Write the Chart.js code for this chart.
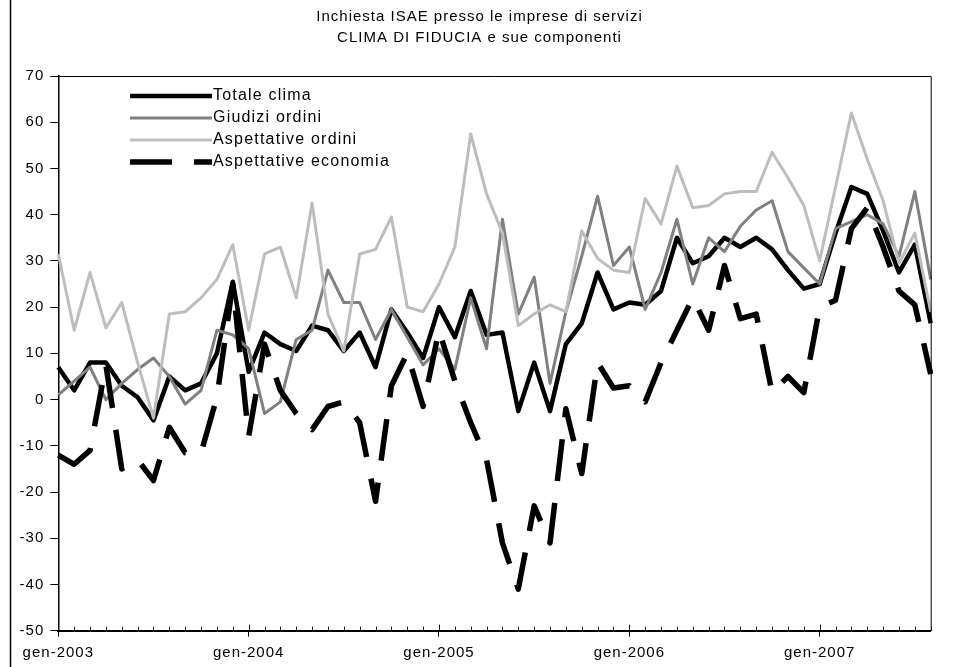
<!DOCTYPE html>
<html>
<head>
    <title>Inchiesta ISAE - imprese di servizi</title>
    <meta charset="utf-8" />
    <script src="https://cdn.jsdelivr.net/npm/chart.js"></script>
    <style>
        html, body { margin: 0; padding: 0; background: #fff; }
        #chartContainer { width: 959px; height: 667px; position: relative; }
    </style>
</head>
<body>
    <div id="chartContainer">
        <canvas id="myChart"></canvas>
    </div>
    <script>
        var categories = [
            'gen-2003','feb-2003','mar-2003','apr-2003','mag-2003','giu-2003','lug-2003','ago-2003','set-2003','ott-2003','nov-2003','dic-2003',
            'gen-2004','feb-2004','mar-2004','apr-2004','mag-2004','giu-2004','lug-2004','ago-2004','set-2004','ott-2004','nov-2004','dic-2004',
            'gen-2005','feb-2005','mar-2005','apr-2005','mag-2005','giu-2005','lug-2005','ago-2005','set-2005','ott-2005','nov-2005','dic-2005',
            'gen-2006','feb-2006','mar-2006','apr-2006','mag-2006','giu-2006','lug-2006','ago-2006','set-2006','ott-2006','nov-2006','dic-2006',
            'gen-2007','feb-2007','mar-2007','apr-2007','mag-2007','giu-2007','lug-2007','ago-2007'
        ];

        var totaleClima = [7, 2, 8, 8, 3, 0.5, -4.5, 5, 2, 3.5, 10, 25.5,
            6, 14.5, 12, 10.5, 16, 15, 10.5, 14.5, 7, 19.5, 14.5, 9,
            20, 13.5, 23.5, 14, 14.5, -2.5, 8, -2.5, 12, 16.5, 27.5, 19.5,
            21, 20.5, 23.5, 35, 29.5, 31, 35, 33, 35, 32.5, 28, 24,
            25, 36, 46, 44.5, 36.5, 27.5, 33.5, 16.5];

        var giudiziOrdini = [1, 4, 7, 0, 3.5, 6.5, 9, 5, -1, 2, 15, 14,
            11, -3, -0.5, 13, 15, 28, 21, 21, 13, 19.5, 13.5, 7.5,
            11, 6.5, 22, 11, 39, 18.5, 26.5, 3.5, 19, 31, 44, 29,
            33, 19.5, 27.5, 39, 25, 35, 32, 37.5, 41, 43, 32, 28.5,
            25, 37, 38.5, 40, 38, 31, 45, 26];

        var aspettativeOrdini = [31.5, 15, 27.5, 15.5, 21, 8, -4, 18.5, 19, 22, 26, 33.5,
            15, 31.5, 33, 22, 42.5, 18.5, 10.5, 31.5, 32.5, 39.5, 20, 19,
            25, 33, 57.5, 44.5, 36, 16, 18.5, 20.5, 19, 36.5, 30.5, 28,
            27.5, 43.5, 38, 50.5, 41.5, 42, 44.5, 45, 45, 53.5, 48, 42,
            30, 46, 62, 52, 43, 29.5, 36, 19];

        var aspettativeEconomia = [-12, -14, -11, 7.5, -15, -13, -17.5, -6, -11.5, -11.5, 0.5, 25,
            -8, 12, 2, -3, -6.5, -1.5, -0.5, -5, -22, 3, 10, -1.5,
            15, 4, -5, -13, -31, -41, -23, -31, -2, -16, 8, 2.5,
            3, -0.5, 8, 15, 22, 15, 29, 17.5, 18.5, 1.5, 5, 1.5,
            20, 21.5, 37, 41.5, 33, 23.5, 20.5, 5.5];

        var yTicks = [-50, -40, -30, -20, -10, 0, 10, 20, 30, 40, 50, 60, 70];

        var titleLines = ['Inchiesta ISAE presso le imprese di servizi', 'CLIMA DI FIDUCIA e sue componenti'];

        var FONT = "'Liberation Sans', Arial, sans-serif";
        var SPACING = '1px';

        // excel-like text spacing, title, axis frame and monthly tick marks
        var framePlugin = {
            id: 'framePlugin',
            beforeLayout: function (chart) { chart.ctx.letterSpacing = SPACING; },
            beforeDraw: function (chart) { chart.ctx.letterSpacing = SPACING; },
            afterDraw: function (chart) {
                var ctx = chart.ctx, a = chart.chartArea, xs = chart.scales.x;
                ctx.save();
                ctx.fillStyle = '#000';
                ctx.font = '15px ' + FONT;
                ctx.textAlign = 'center';
                ctx.textBaseline = 'middle';
                titleLines.forEach(function (t, i) {
                    ctx.fillText(t, chart.width / 2, 16.5 + i * 21);
                });
                ctx.strokeStyle = '#000';
                ctx.lineWidth = 1;
                ctx.beginPath();
                ctx.moveTo(a.left, a.top + 0.5);
                ctx.lineTo(a.right + 0.5, a.top + 0.5);
                ctx.lineTo(a.right + 0.5, a.bottom);
                ctx.stroke();
                for (var i = 0; i < categories.length; i++) {
                    var x = Math.round(xs.getPixelForValue(i)) + 0.5;
                    ctx.beginPath();
                    ctx.moveTo(x, a.bottom);
                    ctx.lineTo(x, a.bottom - (i % 12 === 0 ? 6 : 4));
                    ctx.stroke();
                }
                ctx.lineWidth = 1.5;
                ctx.beginPath();
                ctx.moveTo(10.5, 0);
                ctx.lineTo(10.5, chart.height);
                ctx.stroke();
                ctx.restore();
            }
        };

        // legend inside the plot, top left
        var legendPlugin = {
            id: 'legendPlugin',
            afterDatasetsDraw: function (chart) {
                var ctx = chart.ctx;
                ctx.save();
                ctx.letterSpacing = '1.2px';
                ctx.font = '16px ' + FONT;
                ctx.textBaseline = 'middle';
                ctx.textAlign = 'left';
                chart.data.datasets.forEach(function (ds, i) {
                    var y = 96 + i * 22;
                    ctx.strokeStyle = ds.borderColor;
                    ctx.lineWidth = ds.borderWidth;
                    ctx.setLineDash(ds.borderDash || []);
                    ctx.beginPath();
                    ctx.moveTo(130, y);
                    ctx.lineTo(212, y);
                    ctx.stroke();
                    ctx.setLineDash([]);
                    ctx.fillStyle = '#000';
                    ctx.fillText(ds.label, 213, y);
                });
                ctx.restore();
            }
        };

        Chart.defaults.font.family = FONT;
        Chart.defaults.color = '#000';

        var ctx = document.getElementById('myChart').getContext('2d');
        var myChart = new Chart(ctx, {
            type: 'line',
            data: {
                labels: categories,
                datasets: [
                    { label: 'Totale clima', data: totaleClima, borderColor: '#000000', borderWidth: 4.5, order: 4 },
                    { label: 'Giudizi ordini', data: giudiziOrdini, borderColor: '#808080', borderWidth: 3, order: 3 },
                    { label: 'Aspettative ordini', data: aspettativeOrdini, borderColor: '#bdbdbd', borderWidth: 3, order: 2 },
                    { label: 'Aspettative economia', data: aspettativeEconomia, borderColor: '#000000', borderWidth: 5.5, borderDash: [42, 22], order: 1 }
                ]
            },
            options: {
                responsive: true,
                maintainAspectRatio: false,
                devicePixelRatio: 1,
                animation: false,
                layout: { padding: { left: 10, right: 28.3, top: 76, bottom: 0 } },
                elements: {
                    point: { radius: 0 },
                    line: { tension: 0, borderJoinStyle: 'round', fill: false }
                },
                plugins: {
                    legend: { display: false },
                    tooltip: { enabled: false },
                    title: { display: false }
                },
                scales: {
                    x: {
                        type: 'category',
                        offset: false,
                        border: { display: true, color: '#000', width: 2 },
                        grid: {
                            drawOnChartArea: false,
                            drawTicks: true,
                            tickLength: 6,
                            tickColor: function (c) { return c.index % 12 === 0 ? '#000' : 'rgba(0,0,0,0)'; }
                        },
                        ticks: {
                            autoSkip: false,
                            maxRotation: 0,
                            minRotation: 0,
                            padding: 7,
                            font: { size: 15 },
                            callback: function (val, idx) { return idx % 12 === 0 ? categories[idx] : ''; }
                        },
                        afterFit: function (scale) { scale.height = 36.3; }
                    },
                    y: {
                        min: yTicks[0],
                        max: yTicks[yTicks.length - 1],
                        border: { display: true, color: '#000', width: 1.5 },
                        grid: { drawOnChartArea: false, drawTicks: true, tickLength: 8, tickColor: '#000' },
                        ticks: { stepSize: 10, padding: 6, font: { size: 15 } },
                        afterFit: function (scale) { scale.width = 48.3; }
                    }
                }
            },
            plugins: [framePlugin, legendPlugin]
        });
    </script>
</body>
</html>
